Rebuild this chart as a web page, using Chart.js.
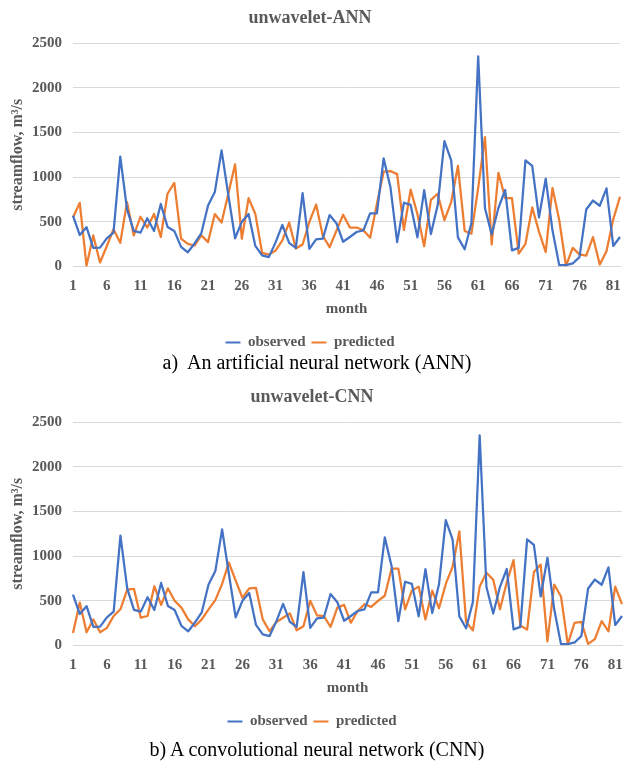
<!DOCTYPE html>
<html>
<head>
<meta charset="utf-8">
<script src="https://cdn.jsdelivr.net/npm/chart.js@4.4.1/dist/chart.umd.min.js"></script>
<style>
  body { margin: 0; background: #fff; width: 625px; height: 762px; position: relative; overflow: hidden; }
  .panel { position: absolute; left: 0; width: 625px; height: 360px; }
  .caption { position: absolute; left: 0; width: 634px; text-align: center; font: 20px "Liberation Serif", "Times New Roman", serif; color: #000; white-space: pre; line-height: 23px; }
</style>
</head>
<body>
<div class="panel" style="top:0"><canvas id="annChart"></canvas></div>
<div class="caption" style="top:351px">a)  An artificial neural network (ANN)</div>
<div class="panel" style="top:379px"><canvas id="cnnChart"></canvas></div>
<div class="caption" style="top:738px">b) A convolutional neural network (CNN)</div>
<script>
// Monthly streamflow (m³/s): observed record and two model predictions
const months = [1,2,3,4,5,6,7,8,9,10,11,12,13,14,15,16,17,18,19,20,21,22,23,24,25,26,27,28,29,30,
  31,32,33,34,35,36,37,38,39,40,41,42,43,44,45,46,47,48,49,50,51,52,53,54,55,56,57,58,59,60,
  61,62,63,64,65,66,67,68,69,70,71,72,73,74,75,76,77,78,79,80,81,82];

const observed = [568,352,440,208,212,315,379,1230,640,398,379,540,398,700,443,398,220,159,258,371,
  682,833,1300,800,316,500,587,230,125,105,270,465,265,208,820,197,303,311,576,485,
  277,330,386,405,595,595,1210,890,273,714,689,326,855,363,685,1402,1188,326,193,486,
  2352,655,358,657,856,180,208,1188,1125,549,982,405,15,15,34,105,638,738,680,875,230,330];

const annPredicted = [549,712,8,348,45,227,417,265,720,348,557,436,587,330,814,936,311,254,235,348,
  273,587,492,814,1144,311,765,587,152,133,178,292,492,201,246,500,693,341,216,398,
  580,436,436,405,322,700,1061,1068,1034,409,860,587,227,746,814,519,720,1125,398,367,
  880,1447,246,1049,765,765,144,254,662,390,162,880,520,8,208,136,121,329,22,170,528,780];

const cnnPredicted = [140,481,148,292,148,197,330,405,625,633,311,330,663,455,640,500,424,292,216,292,
  405,508,689,928,727,534,640,644,292,159,261,311,360,170,216,500,337,330,208,424,
  455,254,386,462,432,500,557,860,860,405,614,659,292,614,417,689,879,1277,261,170,
  659,814,735,405,708,955,223,178,822,905,45,682,549,15,254,265,19,72,273,159,659,462];

const seriesNames = ['observed', 'predicted'];
const seriesColors = ['#4472C4', '#ED7D31'];

const serif = '"Liberation Serif", "Times New Roman", serif';
const grey = '#595959';
const gridGrey = '#d9d9d9';

function makeChart(canvasId, titleText, predicted, padRight) {
  const datasets = [observed, predicted].map((values, i) => ({
    label: seriesNames[i],
    data: values,
    borderColor: seriesColors[i],
    backgroundColor: seriesColors[i],
    borderWidth: 2.25,
    pointRadius: 0,
    tension: 0,
    borderJoinStyle: 'round',
    fill: false
  }));

  return new Chart(document.getElementById(canvasId), {
    type: 'line',
    data: { labels: months, datasets },
    options: {
      responsive: true,
      maintainAspectRatio: false,
      animation: false,
      layout: { padding: { left: 0, right: padRight, top: 0, bottom: 0 } },
      plugins: {
        tooltip: { enabled: false },
        title: {
          display: true,
          text: titleText,
          color: grey,
          font: { family: serif, size: 18, weight: 'bold' },
          padding: { top: 8, bottom: 13.5 }
        },
        legend: {
          position: 'bottom',
          labels: {
            color: grey,
            font: { family: serif, size: 15, weight: 'bold' },
            boxWidth: 15,
            boxHeight: 2,
            padding: 6,
            generateLabels(chart) {
              const items = Chart.defaults.plugins.legend.labels.generateLabels(chart);
              items.forEach(it => { it.lineWidth = 0; });
              return items;
            }
          }
        }
      },
      scales: {
        x: {
          grid: { display: false },
          border: { display: true, color: gridGrey, width: 1 },
          ticks: {
            autoSkip: false,
            maxRotation: 0,
            minRotation: 0,
            padding: 3,
            color: grey,
            font: { family: serif, size: 15, weight: 'bold' },
            callback(value, index) {
              return index % 5 === 0 ? this.getLabelForValue(value) : '';
            }
          },
          title: {
            display: true,
            text: 'month',
            color: grey,
            font: { family: serif, size: 15, weight: 'bold' },
            padding: { top: 2, bottom: 10.5 }
          }
        },
        y: {
          min: 0,
          max: 2500,
          grid: { color: gridGrey, lineWidth: 1, drawTicks: false },
          border: { display: false },
          ticks: {
            stepSize: 500,
            padding: 11,
            color: grey,
            font: { family: serif, size: 15, weight: 'bold' },
            callback: value => String(value)
          },
          title: {
            display: true,
            text: 'streamflow, m³/s',
            color: grey,
            font: { family: serif, size: 16, weight: 'bold' },
            padding: { top: 8, bottom: 0 }
          },
          afterFit(scale) { scale.width = 73; }
        }
      }
    }
  });
}

makeChart('annChart', 'unwavelet-ANN', annPredicted, 5);
makeChart('cnnChart', 'unwavelet-CNN', cnnPredicted, 1);
</script>
</body>
</html>
